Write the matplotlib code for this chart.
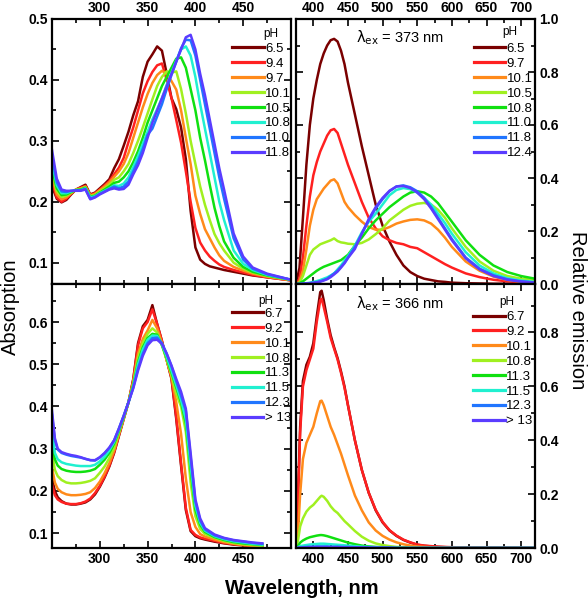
import matplotlib
matplotlib.use("Agg")
import matplotlib.pyplot as plt
from matplotlib.ticker import MultipleLocator

plt.rcParams['font.family'] = ['Liberation Sans', 'DejaVu Sans']

# colours shared by all four panels (low pH -> high pH)
colors = ['#7a0000', '#ff2020', '#ff8a1a', '#a0f020',
          '#10e010', '#20f0d0', '#2075ff', '#5a3cff']

# ---- top left: absorption, series 1 ----
abs1_wl = [250, 255, 260, 265, 270, 275, 280, 285, 290, 295, 300,
           305, 310, 315, 320, 325, 330, 335, 340, 345, 350,
           355, 360, 365, 370, 375, 380, 385, 390, 395, 400,
           405, 410, 415, 420, 425, 430,
           440, 450, 460, 475, 500]
abs1_ph = ['6.5', '9.4', '9.7', '10.1', '10.5', '10.8', '11.0', '11.8']
abs1_values = [
    [.226, .205, .199, .203, .212, .220, .224, .228, .212, .215, .222,
     .229, .237, .255, .270, .292, .315, .342, .365, .405, .430,
     .442, .455, .448, .410, .370, .352, .322, .270, .185, .125,
     .105, .098, .094, .092, .090, .088,
     .085, .082, .079, .076, .071],
    [.232, .207, .200, .205, .213, .220, .223, .226, .211, .214, .220,
     .227, .234, .245, .256, .272, .298, .322, .350, .378, .398,
     .413, .424, .427, .400, .370, .334, .297, .250, .200, .157,
     .133, .120, .110, .103, .097, .093,
     .088, .084, .080, .076, .071],
    [.240, .212, .204, .207, .214, .220, .222, .225, .210, .213, .219,
     .225, .232, .241, .250, .262, .280, .305, .330, .355, .377,
     .395, .408, .415, .410, .398, .384, .350, .305, .262, .210,
     .180, .155, .140, .125, .112, .103,
     .093, .087, .082, .077, .071],
    [.248, .218, .208, .210, .215, .220, .221, .224, .209, .211, .217,
     .222, .228, .236, .240, .250, .262, .280, .300, .322, .345,
     .368, .390, .405, .414, .412, .414, .385, .345, .300, .262,
     .225, .195, .170, .147, .132, .120,
     .100, .090, .084, .078, .072],
    [.255, .222, .211, .212, .216, .219, .220, .223, .208, .210, .215,
     .220, .225, .231, .233, .240, .250, .265, .283, .305, .330,
     .350, .370, .390, .405, .420, .435, .437, .420, .385, .350,
     .305, .268, .228, .190, .160, .135,
     .108, .093, .085, .079, .072],
    [.265, .227, .214, .214, .217, .219, .219, .222, .207, .209, .214,
     .218, .222, .227, .226, .230, .240, .257, .275, .295, .315,
     .335, .352, .370, .392, .412, .432, .450, .455, .440, .405,
     .360, .320, .280, .240, .200, .170,
     .120, .098, .088, .080, .072],
    [.275, .232, .217, .216, .218, .219, .219, .221, .205, .208, .213,
     .217, .221, .225, .222, .225, .233, .250, .267, .287, .310,
     .320, .340, .360, .385, .408, .430, .452, .466, .465, .440,
     .400, .360, .320, .280, .240, .205,
     .140, .105, .090, .081, .072],
    [.285, .238, .220, .218, .218, .218, .218, .220, .204, .207, .212,
     .216, .220, .222, .220, .221, .228, .245, .260, .280, .305,
     .330, .350, .370, .390, .410, .430, .450, .470, .474, .450,
     .410, .375, .335, .295, .255, .220,
     .148, .110, .092, .082, .072],
]

# ---- top right: emission, excitation 373 nm ----
em1_wl = [375, 380, 385, 390, 395, 400, 405, 410, 415, 420, 425, 430,
          435, 440, 445, 450,
          460, 470, 480, 490, 500, 510, 520, 530, 540, 550, 560, 570,
          580, 590, 600,
          620, 640, 660, 680, 700, 720]
em1_ph = ['6.5', '9.7', '10.1', '10.5', '10.8', '11.0', '11.8', '12.4']
em1_values = [
    [0, .06, .25, .45, .60, .70, .77, .83, .87, .90, .92, .925,
     .915, .88, .83, .76,
     .64, .52, .41, .30, .22, .16, .11, .07, .045, .03, .02, .015,
     .01, .008, .005,
     .003, .002, .001, .001, 0, 0],
    [0, .02, .10, .22, .33, .41, .46, .50, .53, .56, .58, .585,
     .57, .53, .49, .45,
     .38, .31, .25, .21, .18, .165, .155, .15, .14, .135, .12, .105,
     .09, .075, .062,
     .04, .026, .016, .01, .006, .004],
    [0, .01, .05, .13, .22, .28, .32, .34, .36, .375, .39, .395,
     .38, .345, .31, .29,
     .26, .235, .215, .205, .205, .215, .228, .236, .242, .244, .24, .228,
     .205, .175, .14,
     .085, .05, .028, .015, .008, .005],
    [0, .005, .03, .07, .11, .13, .14, .15, .155, .16, .165, .172,
     .162, .157, .155, .152,
     .15, .155, .168, .188, .21, .24, .26, .28, .295, .303, .306, .30,
     .28, .25, .21,
     .14, .085, .05, .03, .02, .015],
    [0, .003, .01, .02, .03, .04, .05, .058, .065, .07, .075, .08,
     .085, .09, .10, .11,
     .145, .175, .21, .24, .265, .29, .31, .33, .345, .35, .345, .33,
     .305, .27, .235,
     .165, .11, .07, .045, .03, .02],
    [0, 0, .001, .003, .005, .008, .011, .015, .02, .025, .032, .04,
     .055, .07, .088, .105,
     .145, .195, .235, .265, .30, .335, .355, .362, .358, .345, .325, .30,
     .265, .23, .19,
     .12, .07, .04, .022, .013, .008],
    [0, 0, .001, .002, .003, .005, .007, .01, .015, .02, .03, .04,
     .05, .065, .08, .10,
     .14, .19, .24, .285, .32, .35, .368, .372, .365, .35, .325, .29,
     .25, .21, .17,
     .10, .058, .033, .018, .01, .006],
    [0, 0, .001, .002, .003, .004, .006, .009, .013, .018, .026, .036,
     .047, .062, .078, .098,
     .132, .19, .245, .29, .325, .352, .368, .37, .362, .345, .32, .285,
     .245, .205, .165,
     .097, .055, .03, .016, .009, .005],
]

# ---- bottom left: absorption, series 2 ----
abs2_wl = [250, 253, 256,
           260, 265, 270, 275, 280, 285, 290, 295, 300, 305, 310, 315,
           320, 325, 330, 335, 340, 345, 350, 355, 360, 365, 370, 375,
           380, 385, 390, 395, 400, 405, 410,
           420, 430, 440, 450, 460, 470]
abs2_ph = ['6.7', '9.2', '10.1', '10.8', '11.3', '11.5', '12.3', '> 13']
abs2_values = [
    [.23, .20, .185,
     .176, .170, .168, .168, .170, .173, .180, .192, .210, .232, .258, .29,
     .33, .37, .41, .465, .55, .59, .605, .64, .595, .555, .51, .465,
     .37, .26, .155, .105, .093, .088, .085,
     .080, .076, .073, .071, .069, .067],
    [.215, .19, .18,
     .174, .170, .169, .169, .171, .175, .182, .195, .212, .234, .26, .292,
     .332, .372, .41, .463, .545, .585, .60, .63, .595, .555, .51, .468,
     .375, .265, .16, .108, .096, .09, .087,
     .082, .077, .074, .072, .070, .068],
    [.255, .22, .205,
     .197, .192, .190, .190, .191, .193, .197, .207, .222, .242, .266, .296,
     .334, .372, .41, .458, .525, .56, .58, .605, .585, .55, .51, .47,
     .41, .335, .23, .15, .115, .098, .092,
     .085, .079, .075, .072, .070, .068],
    [.29, .25, .235,
     .226, .220, .218, .218, .219, .221, .224, .230, .243, .258, .278, .303,
     .338, .373, .41, .455, .515, .55, .572, .585, .575, .545, .51, .475,
     .43, .40, .34, .22, .14, .11, .098,
     .089, .082, .077, .074, .072, .070],
    [.32, .275, .26,
     .252, .248, .246, .245, .245, .246, .248, .252, .262, .274, .29, .312,
     .342, .375, .41, .45, .505, .54, .562, .572, .57, .545, .515, .48,
     .445, .41, .36, .25, .155, .12, .103,
     .091, .084, .079, .076, .074, .072],
    [.34, .29, .275,
     .268, .264, .262, .260, .259, .259, .259, .262, .27, .281, .296, .316,
     .345, .377, .41, .447, .50, .535, .558, .568, .567, .547, .518, .485,
     .45, .415, .37, .26, .165, .125, .106,
     .093, .086, .081, .078, .075, .073],
    [.38, .32, .298,
     .29, .286, .283, .281, .279, .276, .273, .272, .279, .289, .302, .32,
     .348, .378, .41, .445, .49, .525, .55, .562, .563, .55, .525, .495,
     .46, .425, .39, .28, .175, .13, .109,
     .095, .088, .083, .080, .077, .075],
    [.39, .325, .30,
     .292, .288, .285, .283, .28, .276, .273, .273, .28, .29, .303, .32,
     .348, .378, .41, .443, .485, .52, .545, .557, .558, .548, .525, .497,
     .465, .435, .395, .29, .18, .135, .112,
     .097, .089, .084, .081, .078, .076],
]

# ---- bottom right: emission, excitation 366 nm ----
em2_wl = [375, 378, 381, 385, 390, 395, 400, 405, 410, 412,
          415, 420, 425, 430, 435, 440, 445, 450,
          460, 470, 480, 490, 500, 510, 520, 530, 540, 550, 560,
          580, 600, 650, 720]
em2_ph = ['6.7', '9.2', '10.1', '10.8', '11.3', '11.5', '12.3', '> 13']
em2_values = [
    [0, .2, .45, .62, .68, .71, .76, .86, .95, .955,
     .92, .85, .79, .745, .705, .655, .60, .53,
     .40, .29, .205, .14, .095, .065, .045, .03, .02, .012, .008,
     .004, .002, .001, 0],
    [0, .18, .43, .60, .66, .70, .74, .84, .92, .925,
     .895, .84, .78, .74, .70, .65, .595, .53,
     .40, .29, .205, .142, .097, .066, .046, .031, .021, .013, .009,
     .005, .003, .001, 0],
    [0, .06, .2, .33, .39, .42, .45, .50, .545, .547,
     .53, .49, .45, .42, .385, .35, .31, .27,
     .195, .14, .095, .065, .045, .031, .021, .014, .009, .006, .004,
     .002, .001, 0, 0],
    [0, .03, .08, .11, .135, .15, .16, .175, .19, .194,
     .19, .175, .155, .14, .13, .115, .10, .088,
     .063, .042, .027, .017, .011, .007, .004, .003, .002, .001, .001,
     0, 0, 0, 0],
    [0, .008, .02, .028, .035, .04, .043, .046, .048, .048,
     .047, .044, .04, .036, .032, .028, .024, .02,
     .014, .009, .006, .004, .003, .002, .001, .001, 0, 0, 0,
     0, 0, 0, 0],
    [0, .003, .007, .009, .011, .013, .014, .015, .016, .016,
     .016, .015, .014, .013, .012, .011, .01, .009,
     .007, .005, .004, .003, .002, .001, .001, 0, 0, 0, 0,
     0, 0, 0, 0],
    [0, .001, .002, .003, .004, .005, .005, .006, .006, .006,
     .006, .006, .005, .005, .005, .004, .004, .004,
     .003, .002, .002, .001, .001, .001, 0, 0, 0, 0, 0,
     0, 0, 0, 0],
    [0, .001, .001, .002, .002, .003, .003, .003, .003, .003,
     .003, .003, .003, .003, .003, .003, .002, .002,
     .002, .002, .001, .001, .001, .001, 0, 0, 0, 0, 0,
     0, 0, 0, 0],
]

W, H = 588.0, 600.0
fig = plt.figure(figsize=(W / 100, H / 100), dpi=100)
ax_tl = fig.add_axes([52 / W, 1 - 284 / H, 239 / W, 265 / H])
ax_tr = fig.add_axes([296 / W, 1 - 284 / H, 239 / W, 265 / H])
ax_bl = fig.add_axes([52 / W, 1 - 548 / H, 239 / W, 264 / H])
ax_br = fig.add_axes([296 / W, 1 - 548 / H, 239 / W, 264 / H])


def draw(ax, wl, values, labels, legend_top, legend_x, ph_xy):
    for vals, lab, col in zip(values, labels, colors):
        ax.plot(wl, vals, color=col, lw=1.8, label=lab)
    leg = ax.legend(loc='upper right', bbox_to_anchor=(legend_x, legend_top),
                    frameon=False, prop={'size': 9.5},
                    handlelength=2.4, handletextpad=0.1, labelspacing=0.2,
                    borderpad=0, borderaxespad=0)
    for line in leg.get_lines():
        line.set_linewidth(2.3)
    ax.text(ph_xy[0], ph_xy[1], 'pH', transform=ax.transAxes,
            ha='center', va='center', fontsize=8.5)


def style(ax, top, right):
    for s in ax.spines.values():
        s.set_linewidth(1.6)
    ax.tick_params(which='both', direction='in', top=True, bottom=True,
                   left=True, right=True, width=1.2)
    ax.tick_params(which='major', length=5, labelsize=10, pad=3)
    ax.tick_params(which='minor', length=3)
    ax.tick_params(labeltop=top, labelbottom=not top,
                   labelright=right, labelleft=not right)
    for axis in (ax.xaxis, ax.yaxis):
        for tick in axis.get_major_ticks():
            tick.label1.set_fontweight('bold')
            tick.label2.set_fontweight('bold')


draw(ax_tl, abs1_wl, abs1_values, abs1_ph, 0.91, 1.0, (0.916, 0.945))
draw(ax_tr, em1_wl, em1_values, em1_ph, 0.91, 0.99, (0.895, 0.952))
draw(ax_bl, abs2_wl, abs2_values, abs2_ph, 0.91, 1.0, (0.895, 0.936))
draw(ax_br, em2_wl, em2_values, em2_ph, 0.898, 0.99, (0.883, 0.932))

for ax in (ax_tl, ax_bl):
    ax.set_xlim(250, 500)
    ax.set_xticks([300, 350, 400, 450])
    ax.xaxis.set_minor_locator(MultipleLocator(25))
    ax.yaxis.set_minor_locator(MultipleLocator(0.05))
for ax in (ax_tr, ax_br):
    ax.set_xlim(375, 720)
    ax.set_xticks([400, 450, 500, 550, 600, 650, 700])
    ax.xaxis.set_minor_locator(MultipleLocator(25))
    ax.yaxis.set_minor_locator(MultipleLocator(0.1))

ax_tl.set_ylim(0.065, 0.5)
ax_tl.set_yticks([0.1, 0.2, 0.3, 0.4, 0.5])
ax_bl.set_ylim(0.065, 0.69)
ax_bl.set_yticks([0.1, 0.2, 0.3, 0.4, 0.5, 0.6])
ax_tr.set_ylim(0, 1.0)
ax_tr.set_yticks([0.0, 0.2, 0.4, 0.6, 0.8, 1.0])
ax_br.set_ylim(0, 0.98)
ax_br.set_yticks([0.0, 0.2, 0.4, 0.6, 0.8])

style(ax_tl, top=True, right=False)
style(ax_tr, top=True, right=True)
style(ax_bl, top=False, right=False)
style(ax_br, top=False, right=True)

ax_tr.text(0.435, 0.928, r'$\mathrm{\lambda}_{\mathrm{ex}}$ = 373 nm',
           transform=ax_tr.transAxes, ha='center', va='center', fontsize=10.5)
ax_br.text(0.435, 0.924, r'$\mathrm{\lambda}_{\mathrm{ex}}$ = 366 nm',
           transform=ax_br.transAxes, ha='center', va='center', fontsize=10.5)

fig.text(10 / W, 1 - 307 / H, 'Absorption', rotation=90, ha='center',
         va='center', fontsize=14.5)
fig.text(577 / W, 1 - 310 / H, 'Relative emission', rotation=-90,
         ha='center', va='center', fontsize=14.5)
fig.text(302 / W, 1 - 588 / H, 'Wavelength, nm', ha='center', va='center',
         fontsize=14.5, fontweight='bold')

fig.savefig('out.png', dpi=100)
